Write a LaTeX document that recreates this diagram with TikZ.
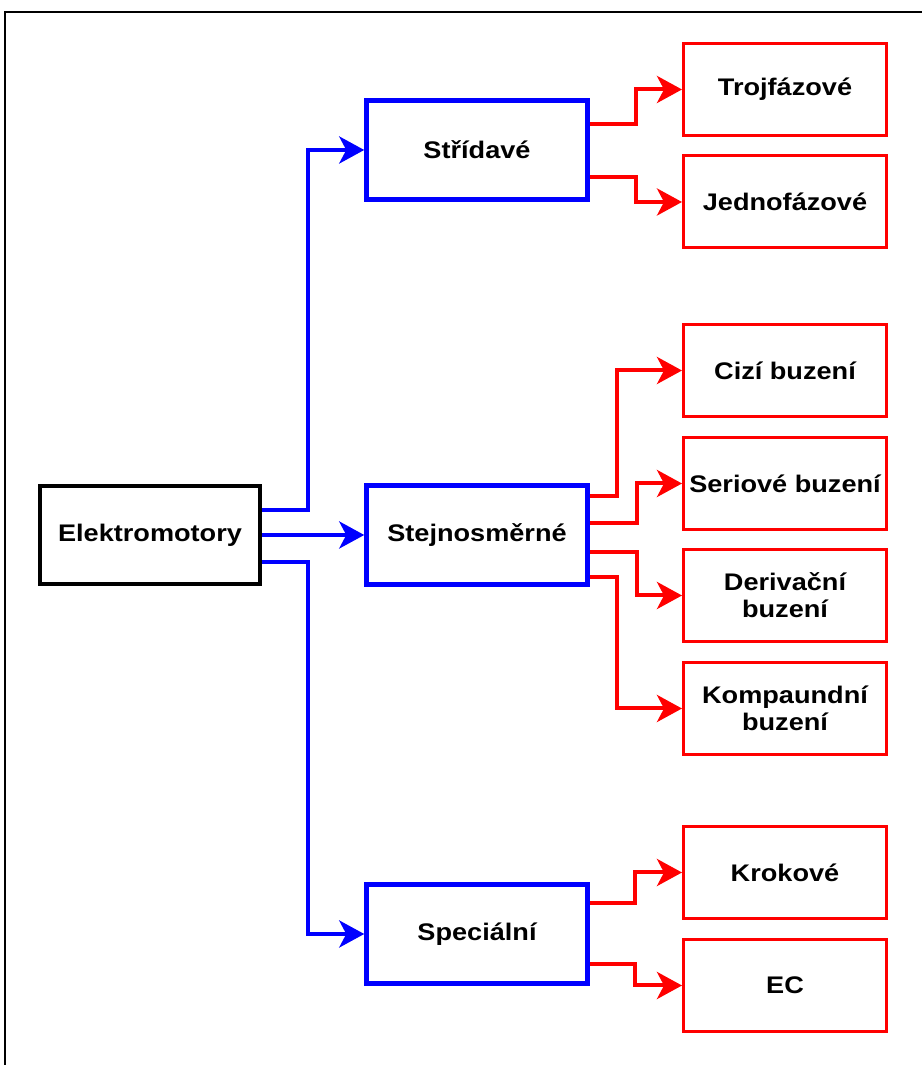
\documentclass[tikz,border=0pt]{standalone}
\usepackage{fontspec}
\setmainfont{Liberation Sans}[FakeStretch=1.13]
\usetikzlibrary{arrows.meta}
\definecolor{mainBlue}{RGB}{0,0,255}
\definecolor{mainRed}{RGB}{255,0,0}
\newcommand{\boxFont}{\fontsize{24}{27}\selectfont\bfseries}
\tikzstyle{rootBox} = [draw=black, line width=4.5pt, minimum width=220pt, minimum height=98pt, font=\boxFont, align=center]
\tikzstyle{groupBox} = [draw=mainBlue, line width=4.5pt, minimum width=221pt, minimum height=99pt, font=\boxFont, align=center]
\tikzstyle{leafBox} = [draw=mainRed, line width=3pt, minimum width=203pt, minimum height=92pt, font=\boxFont, align=center]
\tikzstyle{blueArrow} = [draw=mainBlue, line width=4pt, -{Stealth[length=25pt, width=27pt, inset=7pt]}]
\tikzstyle{redArrow} = [draw=mainRed, line width=4pt, -{Stealth[length=25pt, width=27pt, inset=7pt]}]
\newcommand{\blueLink}[4]{\draw [blueArrow] ([yshift=#2pt]#1.east) -- ++(#3,0) |- (#4.west);}
\newcommand{\redLink}[4]{\draw [redArrow] ([yshift=#2pt]#1.east) -- ++(#3,0) |- (#4.west);}
\begin{document}
\begin{tikzpicture}[x=1pt, y=1pt]
  \useasboundingbox (0,0) rectangle (922,1065);
  % frame
  \draw [line width=2pt] (5,0) -- (5,1053) -- (922,1053);

  % root and groups
  \node [rootBox] (elek) at (150,530) {Elektromotory};
  \node [groupBox] (strid) at (477,915) {Střídavé};
  \node [groupBox] (stej) at (477,530) {Stejnosměrné};
  \node [groupBox] (spec) at (477,131) {Speciální};

  % leaves
  \node [leafBox] (troj) at (785,975.5) {Trojfázové};
  \node [leafBox] (jedn) at (785,863) {Jednofázové};
  \node [leafBox] (cizi) at (785,694.5) {Cizí buzení};
  \node [leafBox] (seri) at (785,581.5) {Seriové buzení};
  \node [leafBox] (deri) at (785,469.5) {Derivační\\buzení};
  \node [leafBox] (komp) at (785,356.5) {Kompaundní\\buzení};
  \node [leafBox] (krok) at (785,192.5) {Krokové};
  \node [leafBox] (ec) at (785,79.5) {EC};

  % blue links
  \blueLink{elek}{25}{46}{strid}
  \draw [blueArrow] (elek.east) -- (stej.west);
  \blueLink{elek}{-27}{46}{spec}

  % red links
  \redLink{strid}{26}{46}{troj}
  \redLink{strid}{-27}{46}{jedn}
  \redLink{stej}{39}{27}{cizi}
  \redLink{stej}{12}{47}{seri}
  \redLink{stej}{-17}{47}{deri}
  \redLink{stej}{-42}{27}{komp}
  \redLink{spec}{31}{45}{krok}
  \redLink{spec}{-30}{45}{ec}
\end{tikzpicture}
\end{document}
